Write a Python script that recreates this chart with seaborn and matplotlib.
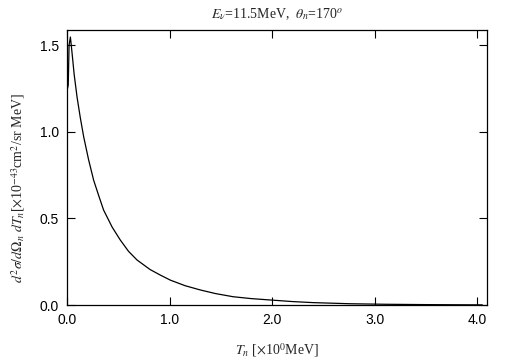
import matplotlib.pyplot as plt
import pandas as pd
import seaborn as sns

# neutron kinetic energy [MeV] and double differential cross section [1e-43 cm^2/sr MeV]
t_n = [0.005, 0.012, 0.02, 0.033, 0.05, 0.07, 0.098, 0.13, 0.163, 0.21, 0.26, 0.31,
       0.357, 0.44, 0.52, 0.6, 0.683, 0.81, 0.91, 1.007, 1.15, 1.30, 1.45, 1.62,
       1.8, 2.01, 2.2, 2.4, 2.76, 3.1, 3.5, 3.8, 4.05]
xsec = [1.25, 1.27, 1.50, 1.547, 1.45, 1.33, 1.20, 1.08, 0.97, 0.84, 0.72, 0.63,
        0.548, 0.45, 0.375, 0.31, 0.26, 0.205, 0.173, 0.144, 0.112, 0.087, 0.066, 0.048,
        0.037, 0.028, 0.02, 0.014, 0.0075, 0.0045, 0.0025, 0.0016, 0.001]

x_ticks = [0.0, 1.0, 2.0, 3.0, 4.0]
y_ticks = [0.0, 0.5, 1.0, 1.5]

df = pd.DataFrame({"T": t_n, "xs": xsec})

sns.set_style("ticks")
plt.rcParams["font.family"] = ["Liberation Sans", "DejaVu Sans"]
plt.rcParams["mathtext.fontset"] = "stix"

fig = plt.figure(figsize=(5.05, 3.61), dpi=100)
ax = fig.add_axes([0.1327, 0.155, 0.8317, 0.763])

sns.lineplot(data=df, x="T", y="xs", color="black", linewidth=0.9, ax=ax)

ax.set_xlim(0, 4.096)
ax.set_ylim(0, 1.59)
ax.set_xticks(x_ticks)
ax.set_xticklabels([f"{v:.1f}" for v in x_ticks])
ax.set_yticks(y_ticks)
ax.set_yticklabels([f"{v:.1f}" for v in y_ticks])
ax.tick_params(direction="in", top=True, right=True, length=6, width=0.8,
               labelsize=10, colors="black", pad=6)
for s in ax.spines.values():
    s.set_linewidth(0.9)
    s.set_color("black")

serif = ["Liberation Serif", "DejaVu Serif"]
ax.set_title(r"$E_\nu$=11.5MeV,  $\theta_n$=170$^o$", fontsize=10, family=serif, pad=8)
ax.set_xlabel(r"$T_n$ [$\times$10$^0$MeV]", fontsize=10, family=serif, labelpad=10)
ax.set_ylabel(r"$d^2\sigma/d\Omega_n\ dT_n$[$\times$10$^{-43}$cm$^2$/sr MeV]",
              fontsize=10, family=serif)
ax.yaxis.set_label_coords(-0.096, 0.425)

fig.savefig("out.png", dpi=100)
